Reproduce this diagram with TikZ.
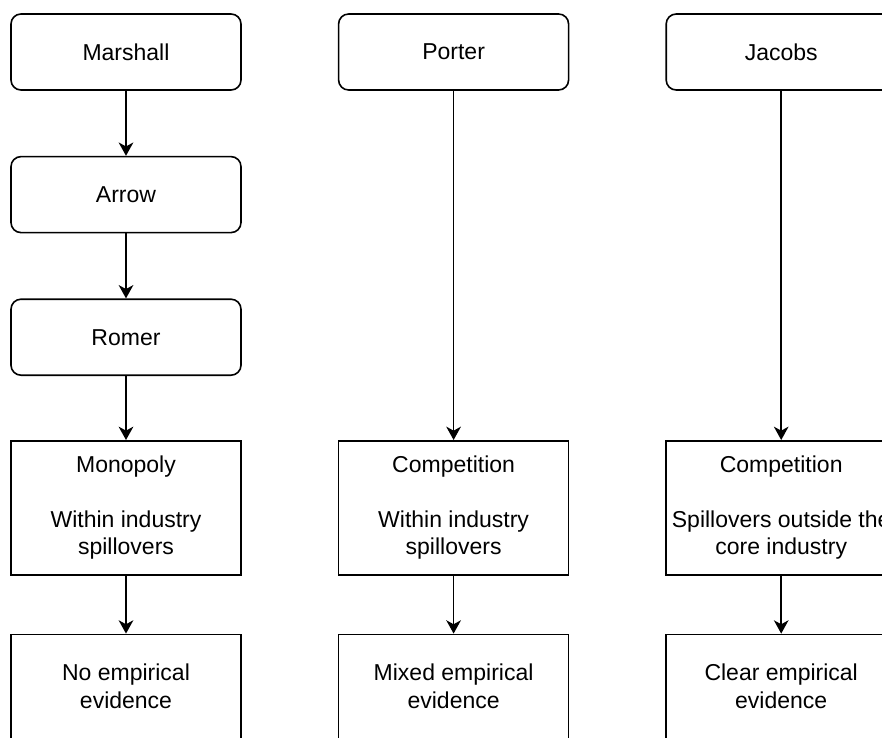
\documentclass[tikz,border=0pt]{standalone}
\usepackage{fontspec}
\setmainfont{Liberation Sans}
\usetikzlibrary{arrows.meta,positioning}

\begin{document}
\begin{tikzpicture}[
    x=0.75pt,y=-0.75pt,
    node distance=48.75pt,
    rbox/.style={rectangle,draw,rounded corners=7.5pt,minimum width=172.5pt,
                minimum height=57pt,inner sep=0pt,align=center,
                font=\fontsize{17.25}{20.6}\selectfont},
    sbox/.style={rbox,sharp corners,minimum height=100.5pt},
    ebox/.style={sbox,minimum height=78pt},
    >={Stealth[length=10pt,width=11pt,inset=3pt]},line width=1.2pt
  ]
    \useasboundingbox (0,0) rectangle (882,738);
    \clip (0,0) rectangle (882,738);
    % left column
    \node[rbox] (marshall) at (126,52) {Marshall};
    \node[rbox,below=of marshall] (arrow) {Arrow};
    \node[rbox,below=of arrow] (romer) {Romer};
    \node[sbox,below=48pt of romer] (monopoly) {Monopoly\\[20.6pt]Within industry\\spillovers};
    \node[ebox,below=43.5pt of monopoly.south,anchor=north] (noev) {No empirical\\evidence};
    % middle column
    \node[rbox,right=72pt of marshall] (porter) {Porter};
    \node[sbox,right=72pt of monopoly] (compP) {Competition\\[20.6pt]Within industry\\spillovers};
    \node[ebox,right=72pt of noev] (mixed) {Mixed empirical\\evidence};
    % right column
    \node[rbox,right=72pt of porter] (jacobs) {Jacobs};
    \node[sbox,right=72pt of compP] (compJ) {Competition\\[20.6pt]Spillovers outside the\\core industry};
    \node[ebox,right=72pt of mixed] (clear) {Clear empirical\\evidence};
    \draw[->] (marshall) -- (arrow);
    \draw[->] (arrow) -- (romer);
    \draw[->] (romer) -- (monopoly);
    \draw[->] (monopoly) -- (noev);
    \draw[->] (porter) -- (compP);
    \draw[->] (compP) -- (mixed);
    \draw[->] (jacobs) -- (compJ);
    \draw[->] (compJ) -- (clear);
  \end{tikzpicture}
\end{document}
